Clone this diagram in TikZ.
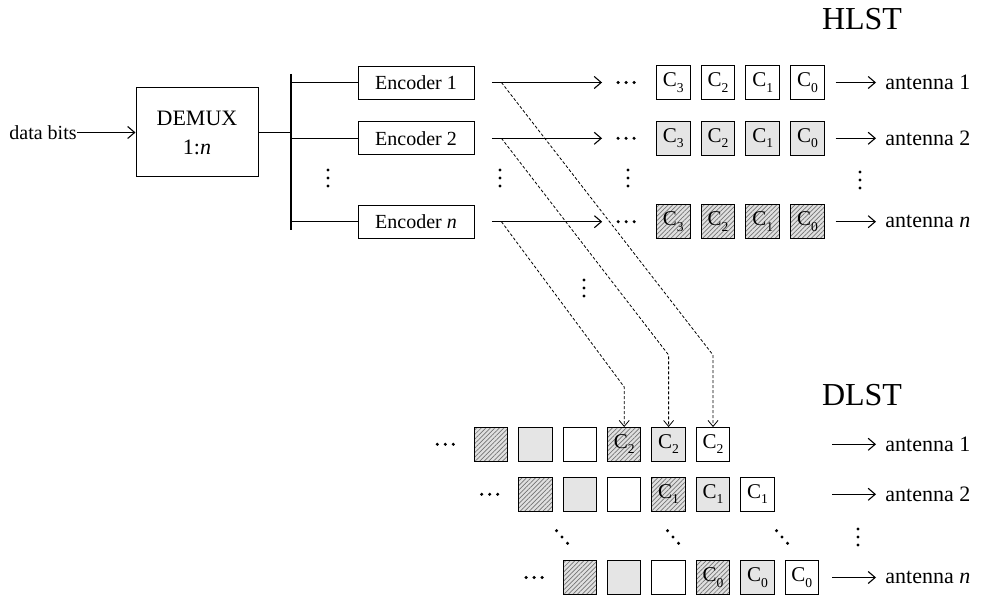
\documentclass[tikz,border=0pt]{standalone}
\usepackage{fontspec}
\setmainfont{Liberation Serif}
\usetikzlibrary{arrows.meta,patterns.meta,calc}

% code symbol with a small, lowered index
\newcommand\Csub[1]{C\raisebox{-0.55ex}{\fontsize{6.8}{7}\selectfont #1}}

\begin{document}
\begin{tikzpicture}[x=0.5pt,y=-0.5pt,
  encbox/.style={draw, line width=0.45pt, minimum width=58pt, minimum height=16.5pt,
    inner sep=0pt, font=\fontsize{10}{12}\selectfont},
  cell/.style={draw, line width=0.5pt, minimum size=16.75pt, inner sep=0pt,
    font=\fontsize{10.5}{12}\selectfont},
  plain/.style={cell, fill=white},
  shaded/.style={cell, fill=black!10},
  hatched/.style={cell, preaction={fill=black!12},
    pattern={Lines[angle=45,distance=1.6pt,line width=0.35pt]}, pattern color=black!55},
  link/.style={line width=0.55pt, -{Straight Barb[length=3.5pt,width=6pt]}},
  feed/.style={line width=0.4pt, dash pattern=on 1.5pt off 1pt,
    -{Straight Barb[length=3pt,width=5pt]}},
  ant/.style={anchor=west, inner sep=0pt, font=\fontsize{11}{13}\selectfont},
  title/.style={font=\fontsize{16}{18}\selectfont},
  dotr/.style={radius=0.85pt},
]
\useasboundingbox (0,0) rectangle (984,597);

% ---------- input, demultiplexer, encoders ----------
\node[anchor=east, inner sep=0pt, font=\fontsize{10}{12}\selectfont] (bits) at (77,132.5) {data bits};
\node[draw, line width=0.5pt, minimum width=61pt, minimum height=44.5pt, inner sep=0pt,
      align=center, font=\fontsize{11}{14.5}\selectfont] (demux) at (197,132.5) {DEMUX\\1:\textit{n}};
\draw[link] (bits.east) -- (demux.west);

\coordinate (bustop) at (291,74);
\coordinate (busbot) at (291,230);
\draw[line width=0.6pt] (bustop) -- (busbot);
\draw[line width=0.5pt] (demux.east) -- (demux.east -| bustop);

\node[encbox] (enc1) at (416,82.5) {Encoder 1};
\node[encbox] (enc2) at (416,138.3) {Encoder 2};
\node[encbox] (encn) at (416,221.7) {Encoder \textit{n}};
\foreach \e in {enc1,enc2,encn}
  \draw[line width=0.5pt] (\e.west -| bustop) -- (\e.west);

% ---------- HLST ----------
\node[title] (hlst) at (862,19) {HLST};
\foreach \r/\st/\yy in {1/plain/82.5, 2/shaded/138.3, n/hatched/221.7} {
  \foreach \k/\d in {1/3,2/2,3/1,4/0} {
    \node[\st] (h\r c\d) at ({673.3+44.7*(\k-1)}, \yy) {\Csub{\d}};
  }
}
\foreach \e/\r in {enc1/1, enc2/2, encn/n} {
  \draw[link] ($(\e.east)+(17.5,0)$) -- ($(h\r c3.west)+(-54,0)$);
  \foreach \dx in {-8,0,8}
    \fill ($(h\r c3.west)+(-30+\dx,0)$) circle[dotr];
}
\node[ant] (ha1) at (885,82.5) {antenna 1};
\node[ant] (ha2) at (885,138.3) {antenna 2};
\node[ant] (han) at (885,221.7) {antenna \textit{n}};
\foreach \r/\a in {1/ha1, 2/ha2, n/han}
  \draw[link, shorten >=4.5pt] ($(h\r c0.east)+(11,0)$) -- (\a.west);

% vertical ellipses
\foreach \x/\y in {328/178, 500/178, 628/178, 860/180, 584/288, 858/537}
  \foreach \dy in {-8,0,8}
    \fill (\x,\y+\dy) circle[dotr];

% ---------- DLST ----------
\node[title] (dlst) at (862,395) {DLST};
\foreach \r/\s/\d/\yy in {1/0/2/444.3, 2/1/1/494.3, n/2/0/577.5} {
  \foreach \k/\st/\txt in {1/hatched/{}, 2/shaded/{}, 3/plain/{},
                           4/hatched/\Csub{\d}, 5/shaded/\Csub{\d}, 6/plain/\Csub{\d}} {
    \node[\st] (dl\r c\k) at ({491+44.4*(\s+\k-1)}, \yy) {\txt};
  }
  \foreach \dx in {-8,0,8}
    \fill ($(dl\r c1.west)+(-28.5+\dx,0)$) circle[dotr];
}
% diagonal ellipses
\foreach \x in {562, 673, 782}
  \foreach \t in {-1,0,1}
    \fill (\x+5.5*\t, 537+6.3*\t) circle[dotr];

\coordinate (dstart) at (832,0);
\node[ant] (da1) at (885,444.3) {antenna 1};
\node[ant] (da2) at (885,494.3) {antenna 2};
\node[ant] (dan) at (885,577.5) {antenna \textit{n}};
\foreach \a in {da1, da2, dan}
  \draw[link, shorten >=4.5pt] (dstart |- \a.west) -- (\a.west);

% ---------- symbol routing from encoders to DLST slots ----------
\coordinate (kneeA) at (0,355);
\coordinate (kneeB) at (0,387);
\draw[feed] ($(enc1.east)+(27,0)$) -- (dl1c6.north |- kneeA) -- (dl1c6.north);
\draw[feed] ($(enc2.east)+(27,0)$) -- (dl1c5.north |- kneeA) -- (dl1c5.north);
\draw[feed] ($(encn.east)+(27,0)$) -- (dl1c4.north |- kneeB) -- (dl1c4.north);
\end{tikzpicture}
\end{document}
